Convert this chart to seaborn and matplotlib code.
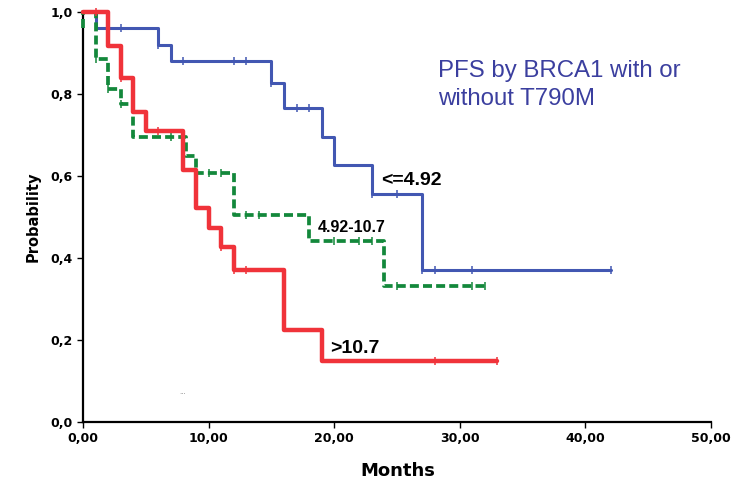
import numpy as np
import pandas as pd
import matplotlib
matplotlib.use("Agg")
import matplotlib.pyplot as plt
import seaborn as sns

# ---------------- data ----------------
blue_label = "<=4.92"
blue_times = [0, 1, 6, 7, 15, 16, 19, 20, 23, 27, 42]
blue_surv = [1.0, 0.96, 0.92, 0.88, 0.826, 0.767, 0.696, 0.627, 0.555, 0.371, 0.371]
blue_cens = [3, 6, 8, 12, 13, 15, 17, 18, 23, 25, 27, 28, 31, 42]

green_label = "4.92-10.7"
green_times = [0, 0, 1, 2, 3, 4, 8.2, 9, 12, 18, 24, 32]
green_surv = [0.96, 1.0, 0.885, 0.812, 0.776, 0.694, 0.65, 0.608, 0.505, 0.442, 0.332, 0.332]
green_cens = [1, 2, 3, 7, 10, 11, 13, 14, 20, 22, 23, 25, 31, 32]

red_label = ">10.7"
red_times = [0, 2, 3, 4, 5, 8, 9, 10, 11, 12, 16, 19, 33]
red_surv = [1.0, 0.917, 0.84, 0.757, 0.71, 0.615, 0.522, 0.472, 0.428, 0.371, 0.224, 0.148, 0.148]
red_cens = [1, 3, 6, 11, 12, 13, 28, 33]

x_ticks = [0, 10, 20, 30, 40, 50]
x_tick_labels = ["0,00", "10,00", "20,00", "30,00", "40,00", "50,00"]
y_ticks = [0.0, 0.2, 0.4, 0.6, 0.8, 1.0]
y_tick_labels = ["0,0", "0,2", "0,4", "0,6", "0,8", "1,0"]

title_text = "PFS by BRCA1 with or\nwithout T790M"
x_label = "Months"
y_label = "Probability"

# ---------------- styling ----------------
sns.set_style("white")
plt.rcParams["font.family"] = ["DejaVu Sans"]
for key in ["text.color", "axes.labelcolor", "xtick.color", "ytick.color"]:
    plt.rcParams[key] = "black"

BLUE = "#4257b2"
GREEN = "#13883b"
RED = "#f0333a"
TITLE_BLUE = "#3b3f9f"

fig = plt.figure(figsize=(7.35, 4.84), dpi=100)
ax = fig.add_axes([83 / 735, 62 / 484, 628 / 735, 410 / 484])


def censor_y(times, surv, cens):
    t = np.asarray(times, dtype=float)
    s = np.asarray(surv, dtype=float)
    idx = np.searchsorted(t, np.asarray(cens, dtype=float), side="right") - 1
    return s[idx]


groups = [
    (blue_times, blue_surv, blue_cens, BLUE, 2.2, "-", 2),
    (green_times, green_surv, green_cens, GREEN, 2.7, (0, (2.4, 1.1)), 3),
    (red_times, red_surv, red_cens, RED, 3.2, "-", 4),
]

for times, surv, cens, col, lw, ls, z in groups:
    df = pd.DataFrame({"time": times, "surv": surv})
    sns.lineplot(data=df, x="time", y="surv", drawstyle="steps-post",
                 estimator=None, sort=False, color=col, linewidth=lw,
                 linestyle=ls, ax=ax, zorder=z, clip_on=False)
    cdf = pd.DataFrame({"time": cens, "surv": censor_y(times, surv, cens)})
    sns.scatterplot(data=cdf, x="time", y="surv", marker="|", s=30,
                    color=col, linewidth=1.1, ax=ax, zorder=z + 0.5,
                    clip_on=False)

ax.set_xlim(0, 50)
ax.set_ylim(0, 1.0)
ax.set_xticks(x_ticks)
ax.set_xticklabels(x_tick_labels, fontsize=9, fontweight="bold")
ax.set_yticks(y_ticks)
ax.set_yticklabels(y_tick_labels, fontsize=9, fontweight="bold")
ax.tick_params(axis="both", which="both", direction="out", length=4.5,
               width=1.0, color="black", pad=3, left=True, bottom=True)

for side in ["top", "right"]:
    ax.spines[side].set_visible(False)
for side in ["left", "bottom"]:
    ax.spines[side].set_color("black")
    ax.spines[side].set_linewidth(1.6)

ax.set_xlabel(x_label, fontsize=13, fontweight="bold")
ax.set_ylabel(y_label, fontsize=10.5, fontweight="bold")
ax.xaxis.set_label_coords(0.5016, -0.098)
ax.yaxis.set_label_coords(-0.068, 0.50)

# in-plot annotations
ax.text(23.7, 0.59, blue_label, fontsize=14, fontweight="bold",
        color="black", va="center", ha="left",
        family=["Liberation Sans", "DejaVu Sans"])
ax.text(18.7, 0.475, green_label, fontsize=11.5, fontweight="bold",
        color="black", va="center", ha="left",
        family=["Liberation Sans Narrow", "Liberation Sans", "DejaVu Sans"])
ax.text(19.7, 0.18, red_label, fontsize=14, fontweight="bold",
        color="black", va="center", ha="left",
        family=["Liberation Sans", "DejaVu Sans"])
ax.text(28.3, 0.822, title_text, fontsize=17.3, color=TITLE_BLUE,
        va="center", ha="left", linespacing=1.32,
        family=["Liberation Sans", "DejaVu Sans"])
ax.text(7.96, 0.073, "...", fontsize=5, color="#888888", ha="center",
        va="center")

fig.savefig("out.png", dpi=100)
